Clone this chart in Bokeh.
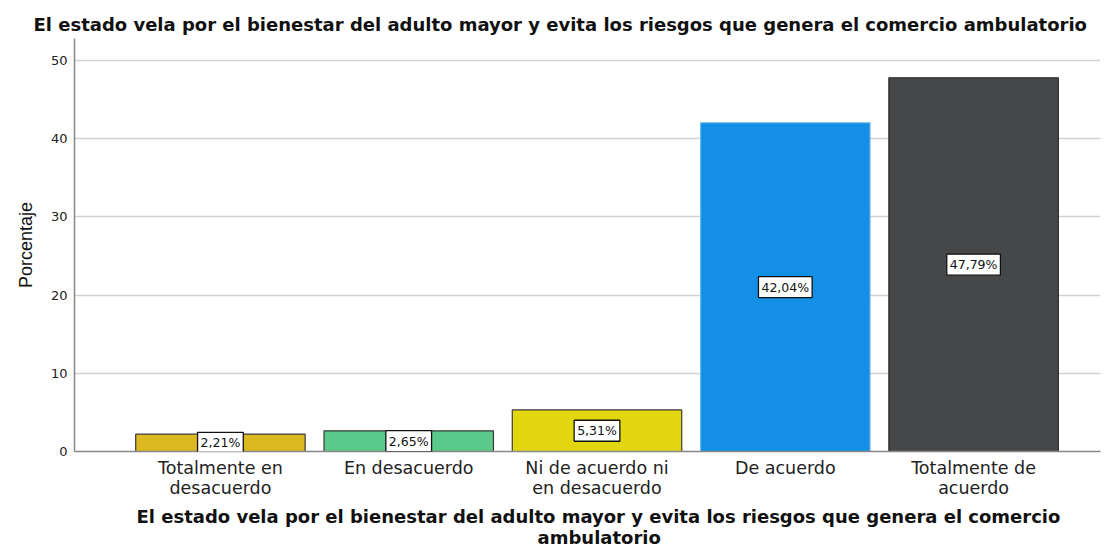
from bokeh.plotting import figure
from bokeh.models import ColumnDataSource, Label, FixedTicker, Range1d, Title
from bokeh.embed import file_html
from bokeh.resources import INLINE

categories = ["Totalmente en\ndesacuerdo", "En desacuerdo", "Ni de acuerdo ni\nen desacuerdo",
              "De acuerdo", "Totalmente de\nacuerdo"]
values = [2.21, 2.65, 5.31, 42.04, 47.79]
labels = ["2,21%", "2,65%", "5,31%", "42,04%", "47,79%"]
colors = ["#DDB921", "#5BC98A", "#E2D60F", "#1390E6", "#464749"]
outlines = ["#3a3a3a", "#3a3a3a", "#3a3a3a", "#6DB8F0", "#2a2a2a"]
title_text = "El estado vela por el bienestar del adulto mayor y evita los riesgos que genera el comercio ambulatorio"
xlabel_line1 = "El estado vela por el bienestar del adulto mayor y evita los riesgos que genera el comercio"
xlabel_line2 = "ambulatorio"

pos = list(range(1, len(categories) + 1))
src = ColumnDataSource(dict(x=pos, top=values, color=colors, line=outlines))

p = figure(width=1109, height=550, output_backend="svg", toolbar_location=None,
           x_range=Range1d(0.225, 5.674), y_range=Range1d(0, 52.81),
           min_border_left=74, min_border_right=9, min_border_top=38, min_border_bottom=99)
t = Title(text=title_text, align="left", offset=-41, text_font="DejaVu Sans",
          text_font_size="18px", text_font_style="bold", text_color="#111111", standoff=8)
p.add_layout(t, "above")

p.vbar(x="x", top="top", width=0.9, bottom=0, source=src, fill_color="color",
       line_color="line", line_width=1.2)

for xv, v, lab in zip(pos, values, labels):
    p.add_layout(Label(x=xv, y=v / 2, text=lab, text_align="center",
                       text_baseline="middle", text_font="DejaVu Sans",
                       text_font_size="12.5px", text_color="#111111",
                       background_fill_color="white", border_line_color="#111111",
                       border_line_width=1.3, padding=3))

# x-axis title below the tick labels; second line centred with non-breaking spaces
xlabel_text = xlabel_line1 + "\n" + "\u00a0" * 64 + xlabel_line2
p.add_layout(Title(text=xlabel_text, align="left", offset=62, text_font="DejaVu Sans",
                   text_font_size="18px", text_font_style="bold", text_color="#111111",
                   text_line_height=1.0, standoff=6), "below")

p.outline_line_color = None
p.background_fill_color = "white"
p.xgrid.grid_line_color = None
p.ygrid.grid_line_color = "#D2D2D2"
p.ygrid.grid_line_width = 1.5
p.ygrid.ticker = FixedTicker(ticks=[10, 20, 30, 40, 50])

p.yaxis.ticker = FixedTicker(ticks=[0, 10, 20, 30, 40, 50])
p.yaxis.major_tick_line_color = None
p.yaxis.major_tick_out = 0
p.yaxis.major_tick_in = 0
p.yaxis.minor_tick_line_color = None
p.yaxis.axis_line_color = "#888888"
p.yaxis.axis_line_width = 1.5
p.yaxis.major_label_text_font = "DejaVu Sans"
p.yaxis.major_label_text_font_size = "13px"
p.yaxis.major_label_text_color = "#222222"
p.yaxis.major_label_standoff = 7
p.yaxis.axis_label = "Porcentaje"
p.yaxis.axis_label_text_font = "Liberation Sans"
p.yaxis.axis_label_text_font_size = "18px"
p.yaxis.axis_label_text_font_style = "normal"
p.yaxis.axis_label_text_color = "#111111"
p.yaxis.axis_label_standoff = 12

p.xaxis.ticker = FixedTicker(ticks=pos)
p.xaxis.major_label_overrides = {i: c for i, c in zip(pos, categories)}
p.xaxis.major_tick_line_color = None
p.xaxis.major_tick_out = 0
p.xaxis.major_tick_in = 0
p.xaxis.minor_tick_line_color = None
p.xaxis.axis_line_color = "#888888"
p.xaxis.axis_line_width = 1.5
p.xaxis.major_label_text_font = "DejaVu Sans"
p.xaxis.major_label_text_font_size = "17.5px"
p.xaxis.major_label_text_line_height = 1.0
p.xaxis.major_label_text_color = "#222222"
p.xaxis.major_label_standoff = 6

open("out.html", "w").write(file_html(p, INLINE))
